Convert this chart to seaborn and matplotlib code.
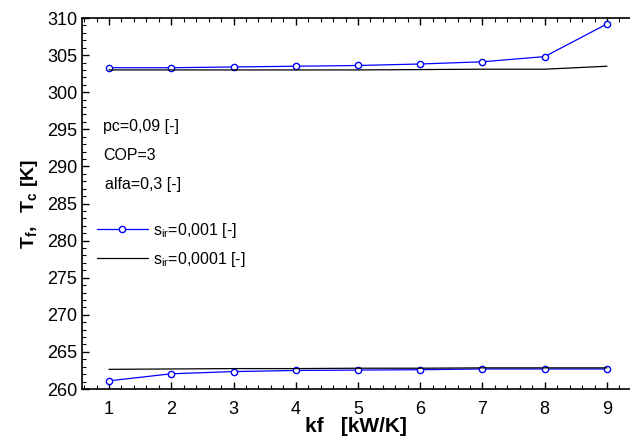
"""T_f, T_c vs kf for two s_ir values — seaborn line chart."""

import matplotlib
matplotlib.use("Agg")
import matplotlib.pyplot as plt
from matplotlib.ticker import MultipleLocator
import seaborn as sns

kf = [1, 2, 3, 4, 5, 6, 7, 8, 9]
# s_ir = 0.001
tc_sir1 = [303.3, 303.3, 303.4, 303.5, 303.6, 303.8, 304.1, 304.8, 309.2]
tf_sir1 = [261.1, 262.05, 262.35, 262.5, 262.55, 262.6, 262.7, 262.7, 262.7]
# s_ir = 0.0001
tc_sir2 = [303.0, 303.0, 303.0, 303.0, 303.0, 303.05, 303.1, 303.1, 303.5]
tf_sir2 = [262.65, 262.7, 262.75, 262.75, 262.8, 262.8, 262.85, 262.85, 262.85]

labels = ["s$_{ir}$=0,001 [-]", "s$_{ir}$=0,0001 [-]"]
notes = ["pc=0,09 [-]", "COP=3", "alfa=0,3 [-]"]

sns.set_style("ticks")
plt.rcParams["font.family"] = ["Liberation Sans", "DejaVu Sans"]
plt.rcParams["mathtext.fontset"] = "custom"
plt.rcParams["mathtext.rm"] = "Liberation Sans"
plt.rcParams["mathtext.it"] = "Liberation Sans"
plt.rcParams["mathtext.bf"] = "Liberation Sans:bold"
plt.rcParams["text.color"] = "black"
plt.rcParams["axes.labelcolor"] = "black"

fig = plt.figure(figsize=(6.3, 4.43), dpi=100)
ax = fig.add_axes([82 / 630, 54 / 443, 548 / 630, 371 / 443])

blue = "#0000ff"
mk = dict(marker="o", markersize=4.5, markerfacecolor="white",
          markeredgecolor=blue, markeredgewidth=1.0)
for tc, tf, color, lab, style in [
    (tc_sir1, tf_sir1, blue, labels[0], mk),
    (tc_sir2, tf_sir2, "black", labels[1], dict(marker=None)),
]:
    sns.lineplot(x=kf, y=tc, ax=ax, color=color, linewidth=0.9,
                 label=lab, **style)
    sns.lineplot(x=kf, y=tf, ax=ax, color=color, linewidth=0.9,
                 label="_nolegend_", **style)

ax.set_xlim(0.566, 9.37)
ax.set_ylim(260, 310)
ax.xaxis.set_major_locator(MultipleLocator(1))
ax.xaxis.set_minor_locator(MultipleLocator(0.2))
ax.yaxis.set_major_locator(MultipleLocator(5))
ax.yaxis.set_minor_locator(MultipleLocator(1))
ax.tick_params(which="both", direction="in", top=True, right=False,
               labelsize=13, colors="black")
ax.tick_params(which="major", length=5, width=1)
ax.tick_params(which="minor", length=3, width=0.8)
ax.tick_params(axis="x", which="major", pad=9)
ax.spines["right"].set_visible(False)
for s in ["left", "top", "bottom"]:
    ax.spines[s].set_linewidth(1.2)
    ax.spines[s].set_color("black")

ax.set_xlabel("kf   [kW/K]", fontsize=15, fontweight="bold", labelpad=-1)
ax.set_ylabel(r"$\mathbf{T_f,\ \ T_c\ [K]}$", fontsize=14, labelpad=5)

for i, (txt, ypx) in enumerate(zip(notes, [126, 155, 185])):
    ax.annotate(txt, xy=(103 + (2 if i == 2 else 0), 443 - ypx),
                xycoords="figure pixels", fontsize=11.5, va="center", ha="left")

ax.legend(loc="upper left", bbox_to_anchor=(0.015, 0.47), frameon=False,
          fontsize=11.5, handlelength=3.2, handletextpad=0.3, labelspacing=0.6,
          borderaxespad=0, labelcolor="black")

fig.savefig("out.png", dpi=100, facecolor="white")
